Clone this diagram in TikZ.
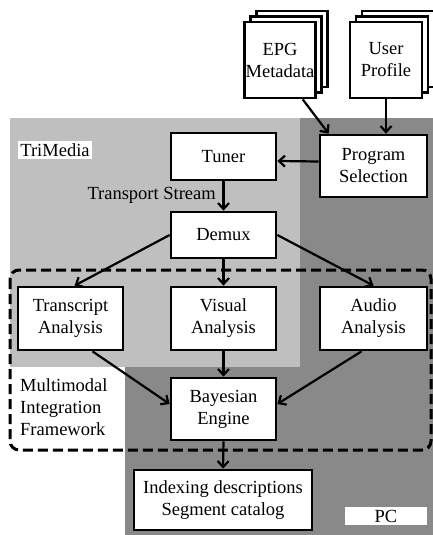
\documentclass[tikz,border=0pt]{standalone}
\usepackage{fontspec}
\setmainfont{Liberation Serif}
\usetikzlibrary{arrows.meta,positioning,shadows}
\definecolor{TMGray}{HTML}{BFBFBF}
\definecolor{PCGray}{HTML}{898989}

\begin{document}
\begin{tikzpicture}[
 x=1pt,y=-1pt,
 box/.style={draw,line width=2.7pt,fill=white,align=center,minimum width=105pt,minimum height=62pt,inner sep=1pt,font=\fontsize{18.5}{22}\selectfont},
 doc/.style={box,minimum width=70pt,minimum height=76pt,double copy shadow={shadow xshift=6pt,shadow yshift=5.5pt}},
 tag/.style={fill=white,inner sep=2pt,font=\fontsize{18.5}{22}\selectfont},
 arrow/.style={-{Straight Barb[length=6pt,width=11pt,line width=2.2pt]},line width=2.2pt}
]
\useasboundingbox (0,0) rectangle (433,535);
\fill[TMGray] (10,118) rectangle (300,367);
\fill[PCGray] (300,118) -- (433,118) -- (433,535) -- (125,535) -- (125,367) -- (300,367) -- cycle;
\draw[line width=3pt,dash pattern=on 10pt off 5pt,rounded corners=9pt] (10,270) rectangle (431,450);

\node[doc] (epg) at (280,60) {EPG\\Metadata};
\node[doc,minimum width=72pt] (user) at (386,60) {User\\Profile};
\node[box,minimum width=107pt] (prog) at (373.5,166) {Program\\Selection};
\node[box,minimum height=47pt] (tuner) at (223.5,156.5) {Tuner};
\node[box,minimum height=46pt] (demux) at (223.5,235) {Demux};
\node[box,minimum height=63pt] (trans) at (70.5,318.5) {Transcript\\Analysis};
\node[box,minimum height=63pt] (visual) at (223.5,318.5) {Visual\\Analysis};
\node[box,minimum width=107pt,minimum height=63pt] (audio) at (373.5,318.5) {Audio\\Analysis};
\node[box] (bayes) at (223.5,409) {Bayesian\\Engine};
\node[box,minimum width=178pt,minimum height=60pt] (index) at (223,500) {Indexing descriptions\\Segment catalog};

\node[tag] (trimedia) at (55,150) {TriMedia};
\node[tag,minimum width=82pt,minimum height=18pt,inner sep=0pt] (pc) at (386,516) {PC};
\node[tag,fill=none,anchor=east] (ts) at (218,195) {Transport Stream};
\node[tag,fill=none,anchor=west,align=left] (mif) at (18,407) {Multimodal\\Integration\\Framework};

\draw[arrow] (epg.-60) -- ([xshift=10pt]prog.north west);
\draw[arrow] (user.south) -- (user.south |- prog.north);
\draw[arrow] ([yshift=4.5pt]prog.west) -- ([yshift=-4.5pt]tuner.east);
\draw[arrow] (tuner.south) -- (demux.north);
\draw[arrow] (demux.west) -- ([xshift=4pt]trans.north);
\draw[arrow] (demux.south) -- (visual.north);
\draw[arrow] (demux.east) -- (audio.north);
\draw[arrow] ([xshift=22pt]trans.south) -- ([yshift=5pt]bayes.west);
\draw[arrow] (visual.south) -- (bayes.north);
\draw[arrow] ([xshift=-12pt]audio.south) -- ([yshift=5pt]bayes.east);
\draw[arrow] (bayes.south) -- (index.north);
\end{tikzpicture}
\end{document}
